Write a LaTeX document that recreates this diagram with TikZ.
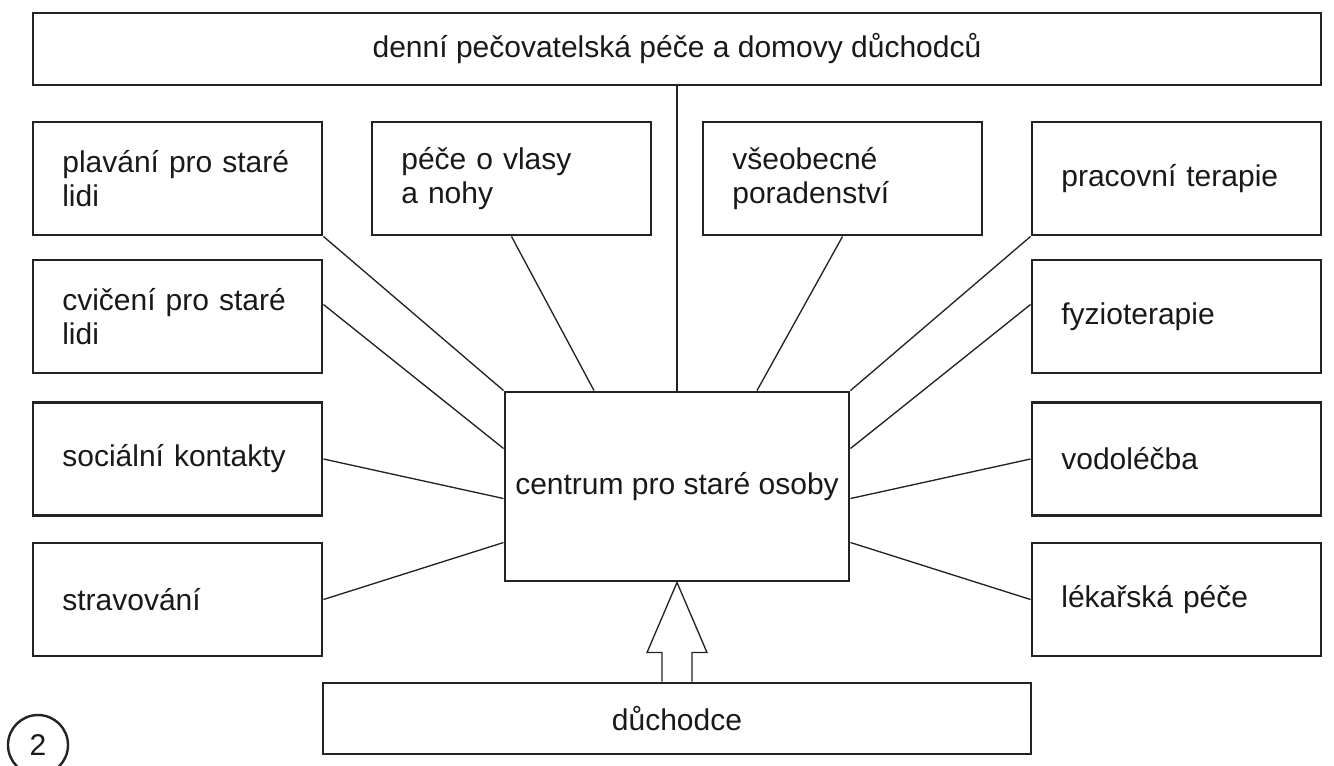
\documentclass[tikz,border=0pt]{standalone}
\usepackage{fontspec}
\setmainfont{Liberation Sans}
\usetikzlibrary{calc}

\begin{document}
\begin{tikzpicture}[x=0.75pt,y=0.75pt,yscale=-1,xscale=1,
  every node/.style={font=\fontsize{22.5pt}{26pt}\selectfont, text={rgb, 255:red, 25; green, 25; blue, 25}},
  box/.style={rectangle, draw={rgb, 255:red, 35; green, 35; blue, 35}, line width=2.2pt, align=left, minimum height=84.75pt, inner ysep=0pt},
  outer box/.style={box, text width=172.75pt, inner xsep=22pt},
  inner box/.style={box, text width=165.25pt, inner xsep=22pt},
  link/.style={draw={rgb, 255:red, 35; green, 35; blue, 35}, line width=1pt}]
\useasboundingbox (0,0) rectangle (1334,765);
\clip (0,0) rectangle (1334,765);

%Shape: Rectangle [top]
\node (denni) [box, align=center, minimum width=966pt, minimum height=54pt] at (677,49) {denní pečovatelská péče a domovy důchodců};

%Shape: Rectangle [row 1]
\node (plav) [outer box] at (177.5,178.5) {plavání pro staré\\lidi};
\node (pece) [inner box] at (511.5,178.5) {péče o vlasy\\a nohy};
\node (vseob) [inner box] at (842.5,178.5) {všeobecné\\poradenství};
\node (prac) [outer box] at (1176.5,178.5) {pracovní terapie};

%Shape: Rectangle [row 2]
\node (cvic) [outer box] at (177.5,316.5) {cvičení pro staré\\lidi};
\node (fyzio) [outer box] at (1176.5,316.5) {fyzioterapie};

%Shape: Rectangle [row 3]
\node (soc) [outer box] at (177.5,459) {sociální kontakty};
\node (vodo) [outer box] at (1176.5,459) {vodoléčba};

%Shape: Rectangle [row 4]
\node (strav) [outer box] at (177.5,599.5) {stravování};
\node (lek) [outer box] at (1176.5,599.5) {lékařská péče};

%Shape: Rectangle [centre]
\node (centrum) [box, align=center, minimum width=258pt, minimum height=141.75pt] at (677,486.5) {centrum pro staré osoby};

%Shape: Rectangle [bottom]
\node (duch) [box, align=center, minimum width=531pt, minimum height=53.25pt] at (677,718.5) {důchodce};

%Shape: Circle [number]
\node (cislo) [circle, draw={rgb, 255:red, 35; green, 35; blue, 35}, line width=1.8pt, minimum size=45pt, inner sep=0pt] at (38,745) {2};

% Lines to the centre
\draw [link] (plav.south east) -- (centrum.north west);
\draw [link] (pece.south) -- ($(centrum.north)+(-83,0)$);
\draw [link, line width=0.8pt] (denni.south) -- (centrum.north);
\draw [link] (vseob.south) -- ($(centrum.north)+(80,0)$);
\draw [link] (prac.south west) -- (centrum.north east);
\draw [link] ($(cvic.east)+(0,-12)$) -- ($(centrum.west)+(0,-38)$);
\draw [link] ($(fyzio.west)+(0,-12)$) -- ($(centrum.east)+(0,-38)$);
\draw [link] (soc.east) -- ($(centrum.west)+(0,12)$);
\draw [link] (vodo.west) -- ($(centrum.east)+(0,12)$);
\draw [link] (strav.east) -- ($(centrum.west)+(0,56)$);
\draw [link] (lek.west) -- ($(centrum.east)+(0,56)$);

% Hollow arrow
\draw [link, line join=miter] ($(duch.north)+(-15,0)$) -- ++(0,-29) -- ++(-15,0) -- (centrum.south) -- ($(duch.north)+(30,-29)$) -- ++(-15,0) -- ++(0,29);

\end{tikzpicture}
\end{document}
